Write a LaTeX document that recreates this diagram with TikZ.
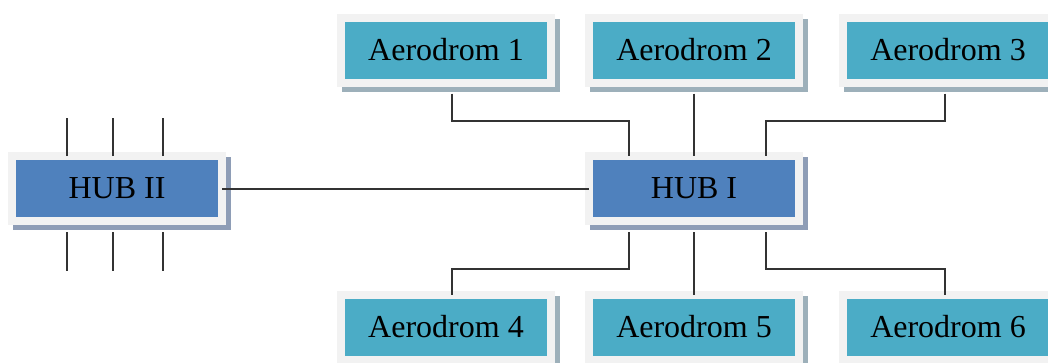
\documentclass[tikz,border=0pt]{standalone}
\usepackage{fontspec}
\setmainfont{Liberation Serif}
\usepackage{xcolor}
\definecolor{aerofill}{HTML}{4BACC6}
\definecolor{hubfill}{HTML}{4F81BD}
\definecolor{framecol}{HTML}{F2F2F2}
\definecolor{aeroshadow}{HTML}{9DB0BA}
\definecolor{hubshadow}{HTML}{8E9DB6}
\definecolor{linecol}{HTML}{333333}

\begin{document}
\begin{tikzpicture}[x=1pt, y=-1pt,
	box/.style={rectangle, draw=framecol, line width=8pt, outer sep=0pt,
		minimum width=210pt, minimum height=65pt, inner sep=0pt,
		font=\fontsize{32}{36}\selectfont},
	aero/.style={box, fill=aerofill,
		preaction={fill=aeroshadow, draw=aeroshadow, transform canvas={shift={(5pt,-5pt)}}}},
	hub/.style={box, fill=hubfill,
		preaction={fill=hubshadow, draw=hubshadow, transform canvas={shift={(5pt,-5pt)}}}},
	link/.style={draw=linecol, line width=2pt}]
	\useasboundingbox (0,0) rectangle (1048,362);

	\node[hub] (hub1) at (694,188.5) {HUB I};
	\node[hub] (hub2)[left of = hub1, node distance=577pt] {HUB II};
	\node[aero] (a2)[above of = hub1, node distance=138.5pt] {Aerodrom 2};
	\node[aero] (a5)[below of = hub1, node distance=138.5pt] {Aerodrom 5};
	\node[aero] (a1)[left of = a2, node distance=248pt] {Aerodrom 1};
	\node[aero] (a3)[right of = a2, node distance=254pt] {Aerodrom 3};
	\node[aero] (a4)[left of = a5, node distance=248pt] {Aerodrom 4};
	\node[aero] (a6)[right of = a5, node distance=254pt] {Aerodrom 6};

	\draw[link] (hub2.east) -- (hub1.west);
	\draw[link, shorten <=11pt] ([xshift=6pt]a1.south) -- ++(0,38) -| ([xshift=-65pt]hub1.north);
	\draw[link, shorten <=11pt] (a2.south) -- (hub1.north);
	\draw[link, shorten <=11pt] ([xshift=-3pt]a3.south) -- ++(0,38) -| ([xshift=72pt]hub1.north);
	\draw[link, shorten <=11pt] ([xshift=-65pt]hub1.south) -- ++(0,47.5) -| ([xshift=6pt]a4.north);
	\draw[link, shorten <=11pt] (hub1.south) -- (a5.north);
	\draw[link, shorten <=11pt] ([xshift=72pt]hub1.south) -- ++(0,47.5) -| ([xshift=-3pt]a6.north);

	\foreach \dx in {-50,-4,46} {
		\draw[link] ([xshift=\dx pt]hub2.north) -- ++(0,-38);
		\draw[link, shorten <=11pt] ([xshift=\dx pt]hub2.south) -- ++(0,49.5);
	}
\end{tikzpicture}
\end{document}
